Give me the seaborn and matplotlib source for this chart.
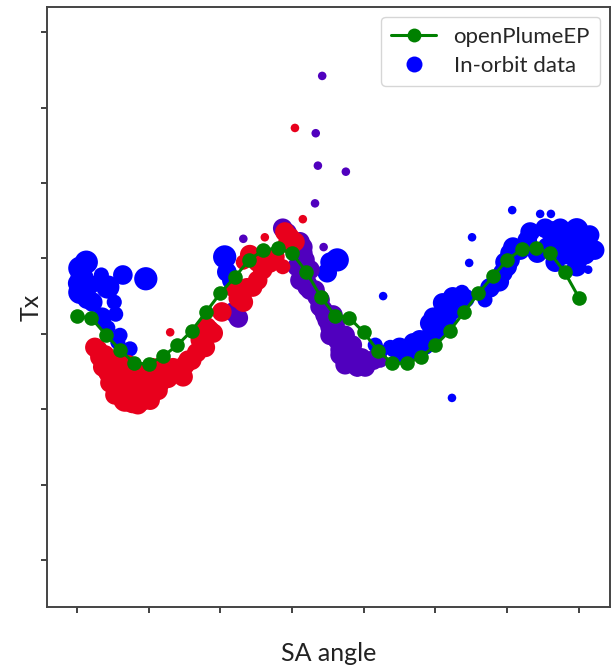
import numpy as np
import pandas as pd
import matplotlib
matplotlib.use("Agg")
import matplotlib.pyplot as plt
from matplotlib.lines import Line2D
import seaborn as sns

# ---- model curve (openPlumeEP) ----
model_x = [round(0.2 * i, 1) for i in range(36)]
model_y = [3.23, 3.21, 2.99, 2.79, 2.61, 2.60, 2.70, 2.85, 3.04, 3.29,
           3.54, 3.75, 3.98, 4.11, 4.14, 4.07, 3.82, 3.49, 3.24, 3.21,
           3.02, 2.77, 2.61, 2.61, 2.69, 2.85, 3.04, 3.29, 3.54, 3.76,
           3.98, 4.12, 4.14, 4.07, 3.82, 3.48]

# ---- in-orbit data, three groups ----
blue_x = [0.04, 0.13, 0.07, 0.18, 0.04, 0.14, 0.22, 0.01, 0.10, 0.34,
          0.43, 0.64, 0.96, 0.52, 0.54, 0.35, 0.43, 0.60, 0.57, 0.74,
          2.06, 2.09, 2.16, 3.63, 3.49, 3.53, 4.27,
          4.37, 4.50, 4.69, 4.78, 4.92, 4.97, 5.10, 5.24, 5.37, 5.24,
          5.06, 4.95, 4.48, 4.41, 4.16, 5.51, 5.47, 5.23,
          5.86, 5.94, 6.04, 6.08, 6.28, 6.42, 6.56, 6.64, 6.83, 6.97,
          7.06, 7.02, 6.97, 7.13, 6.07, 6.46, 6.61, 6.04, 6.00, 5.89,
          6.74, 6.88, 5.69,
          6.32, 6.53, 6.74, 6.88, 7.15, 7.22, 7.09, 6.81, 6.67, 6.18,
          4.57, 4.71, 4.85, 5.02, 5.16, 5.30, 5.41, 4.23, 5.76, 5.97]
blue_y = [3.87, 3.95, 3.74, 3.65, 3.55, 3.46, 3.42, 3.67, 3.58, 3.78,
          3.62, 3.78, 3.73, 3.42, 3.26, 3.22, 3.08, 2.98, 2.89, 2.80,
          4.02, 3.82, 3.71, 3.98, 3.81, 3.95, 3.50,
          2.82, 2.82, 2.88, 2.92, 3.14, 3.22, 3.41, 3.49, 3.55, 3.32,
          3.14, 3.01, 2.72, 2.79, 2.85, 4.28, 3.94, 2.15,
          3.71, 3.81, 3.98, 4.15, 4.24, 4.07, 4.15, 4.34, 4.20, 4.38,
          4.28, 4.02, 3.89, 3.85, 4.64, 4.59, 4.59, 4.07, 3.89, 3.69,
          4.24, 4.11, 3.45,
          4.35, 4.40, 4.40, 4.35, 4.31, 4.11, 4.05, 4.05, 3.95, 4.11,
          2.76, 2.79, 2.85, 3.05, 3.21, 3.38, 3.47, 2.76, 3.61, 3.95]
blue_s = [4, 4, 4, 3, 4, 3, 3, 3, 4, 2,
          4, 3, 4, 2, 2, 3, 2, 2, 2, 2,
          4, 3, 3, 4, 3, 3, 1,
          2, 3, 3, 3, 3, 3, 3, 3, 2, 3,
          3, 3, 2, 2, 2, 1, 1, 1,
          3, 3, 3, 3, 3, 3, 3, 4, 3, 4,
          4, 3, 3, 1, 1, 1, 1, 3, 3, 3,
          4, 3, 2,
          3, 3, 3, 3, 3, 3, 3, 3, 3, 3,
          3, 3, 3, 3, 3, 3, 3, 2, 3, 3]

red_x = [0.25, 0.32, 0.36, 0.49, 0.56, 0.70, 0.78, 0.88, 0.98, 1.09,
         1.20, 1.34, 1.48, 1.55, 1.67, 1.79, 1.90, 1.81, 2.02, 1.30,
         0.60, 0.64, 0.46, 0.84, 1.02, 0.78, 1.85, 2.32, 2.37, 2.45,
         2.52, 2.59, 2.69, 2.76, 2.32, 2.62, 2.90, 2.97, 3.04, 2.94,
         3.15, 2.87, 3.04, 2.41, 2.52, 2.25, 2.18,
         0.39, 0.71, 0.95, 1.13, 0.57,
         0.43, 0.53, 0.67, 0.85, 0.95, 1.16, 1.27, 1.41, 1.60, 1.72,
         0.71, 0.91, 1.05, 0.29, 1.51]
red_y = [2.82, 2.69, 2.56, 2.43, 2.29, 2.35, 2.21, 2.12, 2.25, 2.39,
         2.49, 2.55, 2.43, 2.65, 2.75, 2.82, 3.01, 3.09, 3.29, 3.02,
         2.52, 2.43, 2.35, 2.39, 2.12, 2.10, 3.05, 3.42, 3.61, 3.62,
         3.71, 3.85, 3.94, 4.02, 3.95, 4.28, 4.35, 4.28, 4.22, 4.20,
         4.52, 3.89, 5.73, 4.05, 3.95, 3.47, 3.58,
         2.72, 2.19, 2.41, 2.25, 2.65,
         2.49, 2.19, 2.12, 2.06, 2.18, 2.35, 2.41, 2.49, 2.65, 2.92,
         2.59, 2.49, 2.55, 2.79, 2.59]
red_s = [3, 3, 3, 4, 4, 4, 4, 4, 4, 3,
         3, 3, 3, 3, 3, 3, 3, 3, 3, 1,
         4, 4, 3, 3, 3, 4, 3, 3, 3, 3,
         3, 3, 3, 3, 2, 1, 3, 3, 3, 3,
         1, 2, 1, 3, 3, 3, 2,
         3, 4, 3, 3, 3,
         3, 3, 4, 3, 3, 3, 3, 3, 3, 3,
         3, 3, 3, 3, 3]

purple_x = [2.87, 2.93, 3.11, 3.15, 3.15, 3.07, 3.11, 3.11, 3.21, 3.21,
            3.35, 3.39, 3.43, 3.49, 3.53, 3.63, 3.63, 3.71, 3.77, 3.67,
            3.91, 3.91, 4.04, 4.13, 4.23, 3.91, 2.25, 2.18, 2.32, 3.44,
            3.32, 3.42, 3.33, 3.36, 3.75, 3.25, 3.32, 3.81, 3.57,
            3.25, 3.39, 3.46, 3.60, 3.74, 3.84, 3.97, 3.74, 4.02, 3.53,
            3.67, 3.18, 3.05]
purple_y = [4.40, 4.34, 4.22, 4.15, 4.07, 3.89, 3.89, 3.71, 3.67, 3.62,
            3.49, 3.36, 3.32, 3.18, 3.09, 3.01, 2.92, 2.88, 2.79, 2.79,
            2.69, 2.56, 2.61, 2.65, 2.65, 2.49, 3.21, 3.29, 4.26, 4.15,
            4.73, 6.42, 5.66, 5.23, 5.15, 3.85, 3.58, 2.65, 3.25,
            3.58, 3.45, 3.25, 3.12, 2.98, 2.85, 2.68, 2.59, 2.56, 2.98,
            2.72, 3.98, 4.08]
purple_s = [3, 3, 3, 3, 3, 3, 3, 3, 3, 3,
            3, 3, 3, 3, 3, 3, 3, 3, 3, 3,
            3, 3, 3, 3, 2, 1, 3, 3, 1, 1,
            1, 1, 1, 1, 1, 3, 3, 3, 3,
            3, 3, 3, 3, 3, 3, 3, 3, 3, 3,
            3, 3, 3]

groups = ["blue", "purple", "red"]
colors = {"blue": "#0000ff", "purple": "#5000be", "red": "#e8001c"}

df = pd.concat([
    pd.DataFrame({"x": blue_x, "y": blue_y, "s": blue_s, "g": "blue"}),
    pd.DataFrame({"x": purple_x, "y": purple_y, "s": purple_s, "g": "purple"}),
    pd.DataFrame({"x": red_x, "y": red_y, "s": red_s, "g": "red"}),
], ignore_index=True)
model = pd.DataFrame({"x": model_x, "y": model_y})

sns.set_style("ticks")
plt.rcParams["font.family"] = ["Lato", "DejaVu Sans"]

fig = plt.figure(figsize=(6.12, 6.67), dpi=100)
ax = fig.add_axes([47 / 612, 1 - 607 / 667, (610 - 47) / 612, (607 - 7) / 667])

sns.scatterplot(data=df, x="x", y="y", hue="g", palette=colors, hue_order=groups,
                size="s", sizes=(38, 280), size_norm=(1, 4), linewidth=0,
                legend=False, ax=ax, zorder=2)
sns.lineplot(data=model, x="x", y="y", color="#008000", marker="o",
             markersize=10.5, markeredgewidth=0, linewidth=2.2, ax=ax, zorder=3)

ax.set_xlim(-0.418, 7.434)
ax.set_ylim(-0.623, 7.334)
ax.set_xticks(range(8))
ax.set_yticks(range(8))
ax.set_xticklabels([])
ax.set_yticklabels([])
ax.tick_params(direction="out", length=4, width=1.3, color="#333333")
for sp in ax.spines.values():
    sp.set_color("#444444")
    sp.set_linewidth(1.4)

ax.set_xlabel("SA angle", fontsize=18, labelpad=18, color="#222222")
ax.set_ylabel("Tx", fontsize=18, labelpad=-4, color="#222222")

handles = [
    Line2D([0], [0], color="#008000", marker="o", markersize=10, linewidth=2.2,
           markeredgewidth=0),
    Line2D([0], [0], color="none", marker="o", markerfacecolor="#0000ff",
           markersize=11.5, markeredgewidth=0),
]
ax.legend(handles, ["openPlumeEP", "In-orbit data"], loc="upper right",
          fontsize=16, frameon=True, handlelength=2.0, borderpad=0.45,
          labelspacing=0.4, handletextpad=0.8, borderaxespad=0.45)

fig.savefig("out.png", dpi=100)
